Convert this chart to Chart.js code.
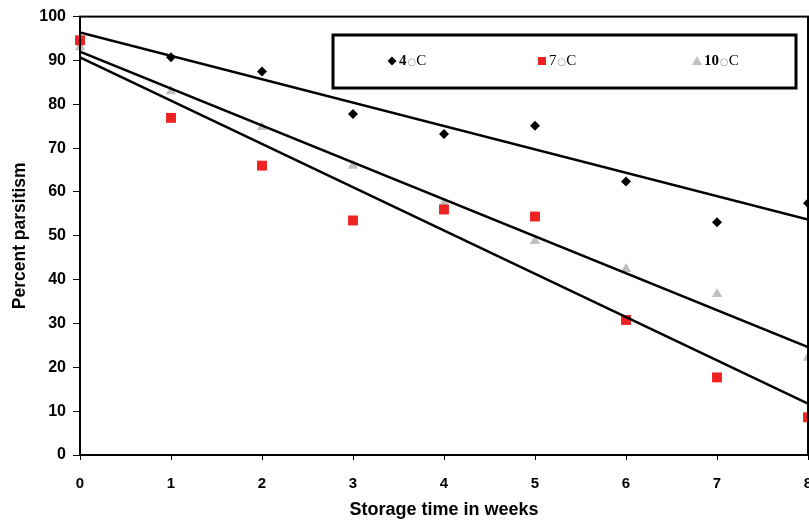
<!DOCTYPE html>
<html>
<head>
<meta charset="utf-8">
<script src="https://cdn.jsdelivr.net/npm/chart.js@4"></script>
<style>
  body { margin: 0; background: #fff; }
</style>
</head>
<body>
<canvas id="parasitismo" width="809" height="525"></canvas>
<script>
// semanas de almacenamiento
const semanas = [0, 1, 2, 3, 4, 5, 6, 7, 8]
const etiquetas = ['4○C', '7○C', '10○C']

// porcentaje de parasitismo por temperatura
const temp4 = [94.6, 90.7, 87.5, 77.8, 73.2, 75.1, 62.4, 53.1, 57.4]
const temp7 = [94.6, 76.9, 66.0, 53.5, 56.0, 54.4, 30.8, 17.7, 8.6]
const temp10 = [93.0, 83.0, 74.8, 66.0, 57.4, 48.8, 42.4, 36.7, 22.2]

// lineas de tendencia (valor en semana 0 y semana 8)
const tendencia4 = [96.4, 53.7]
const tendencia7 = [90.7, 11.7]
const tendencia10 = [92.0, 24.6]

const yTicks = [0, 10, 20, 30, 40, 50, 60, 70, 80, 90, 100]

const colores = ['#000000', '#ee2222', '#c0c0c0']
const estilos = ['rectRot', 'rect', 'triangle']
const radios = [5, 7, 6]
const capas = [4, 2, 3] // el rojo queda encima

const puntos = (serie) => serie.map((v, i) => ({ x: semanas[i], y: v }))
const recta = (t) => [{ x: semanas[0], y: t[0] }, { x: semanas[semanas.length - 1], y: t[1] }]

const series = [temp4, temp7, temp10]
const tendencias = [tendencia4, tendencia7, tendencia10]

const datasets = []
series.forEach((s, i) => {
    datasets.push({
        type: 'scatter',
        label: etiquetas[i],
        data: puntos(s),
        pointStyle: estilos[i],
        pointRadius: radios[i],
        pointHoverRadius: radios[i],
        backgroundColor: colores[i],
        borderColor: colores[i],
        borderWidth: 0,
        clip: false,
        order: capas[i]
    })
})
tendencias.forEach((t) => {
    datasets.push({
        type: 'line',
        label: '',
        data: recta(t),
        borderColor: '#000',
        borderWidth: 2.5,
        pointRadius: 0,
        fill: false,
        order: 1
    })
})

// marco del area de la grafica y leyenda con recuadro
const marco = {
    id: 'marco',
    afterDraw(chart) {
        const { ctx, chartArea: a } = chart
        ctx.save()
        ctx.strokeStyle = '#000'
        ctx.lineWidth = 2
        ctx.strokeRect(a.left, a.top, a.right - a.left, a.bottom - a.top)

        // leyenda
        ctx.lineWidth = 3
        ctx.strokeRect(333, 35, 463, 53)
        const posiciones = [392, 542, 697]
        ctx.textBaseline = 'middle'
        etiquetas.forEach((et, i) => {
            const x = posiciones[i]
            const y = 61
            ctx.fillStyle = colores[i]
            ctx.beginPath()
            if (estilos[i] === 'rectRot') {
                ctx.moveTo(x, y - 4.5); ctx.lineTo(x + 4.5, y); ctx.lineTo(x, y + 4.5); ctx.lineTo(x - 4.5, y)
            } else if (estilos[i] === 'rect') {
                ctx.rect(x - 4, y - 4, 8, 8)
            } else {
                ctx.moveTo(x, y - 5); ctx.lineTo(x + 5, y + 4); ctx.lineTo(x - 5, y + 4)
            }
            ctx.closePath()
            ctx.fill()

            const [num, resto] = et.split('○')
            let tx = x + 7
            ctx.textAlign = 'left'
            ctx.font = (i === 1 ? '' : 'bold ') + '15px "Liberation Serif", serif'
            ctx.fillStyle = '#000'
            ctx.fillText(num, tx, y)
            tx += ctx.measureText(num).width + 1
            ctx.font = '10px "DejaVu Sans", sans-serif'
            ctx.fillStyle = '#999'
            ctx.fillText('○', tx, y + 1)
            tx += ctx.measureText('○').width
            ctx.font = '15px "Liberation Serif", serif'
            ctx.fillStyle = '#000'
            ctx.fillText(resto, tx, y)
        })
        ctx.restore()
    }
}

const ctx = document.getElementById('parasitismo').getContext('2d')
const grafica = new Chart(ctx, {
    data: { datasets },
    options: {
        responsive: false,
        animation: false,
        layout: { autoPadding: false, padding: { top: 14, right: 1, left: 0, bottom: 0 } },
        scales: {
            x: {
                type: 'linear',
                min: 0,
                max: 8,
                afterFit: (s) => { s.height = 70; s.paddingLeft = 0; s.paddingRight = 0 },
                ticks: {
                    stepSize: 1,
                    padding: 15,
                    color: '#000',
                    font: { family: '"Liberation Sans Narrow", "Liberation Sans", Arial', size: 15, weight: 'bold' }
                },
                grid: { drawOnChartArea: false, drawTicks: true, tickLength: 5, tickColor: '#000' },
                border: { display: true, color: '#000', width: 2 },
                title: {
                    display: true,
                    text: 'Storage time in weeks',
                    color: '#000',
                    padding: { top: 6 },
                    font: { family: '"Liberation Sans", Arial', size: 18, weight: 'bold' }
                }
            },
            y: {
                min: 0,
                max: 100,
                afterFit: (s) => { s.width = 80 },
                afterBuildTicks: (s) => { s.ticks = yTicks.map(v => ({ value: v })) },
                ticks: {
                    padding: 7,
                    color: '#000',
                    font: { family: '"Liberation Sans", Arial', size: 16, weight: 'bold' }
                },
                grid: { drawOnChartArea: false, drawTicks: true, tickLength: 7, tickColor: '#000' },
                border: { display: true, color: '#000', width: 2 },
                title: {
                    display: true,
                    text: 'Percent parsitism',
                    color: '#000',
                    padding: { top: 10, bottom: 6 },
                    font: { family: '"Liberation Sans", Arial', size: 17.5, weight: 'bold' }
                }
            }
        },
        plugins: {
            legend: { display: false },
            tooltip: { enabled: false }
        }
    },
    plugins: [marco]
})
</script>
</body>
</html>
